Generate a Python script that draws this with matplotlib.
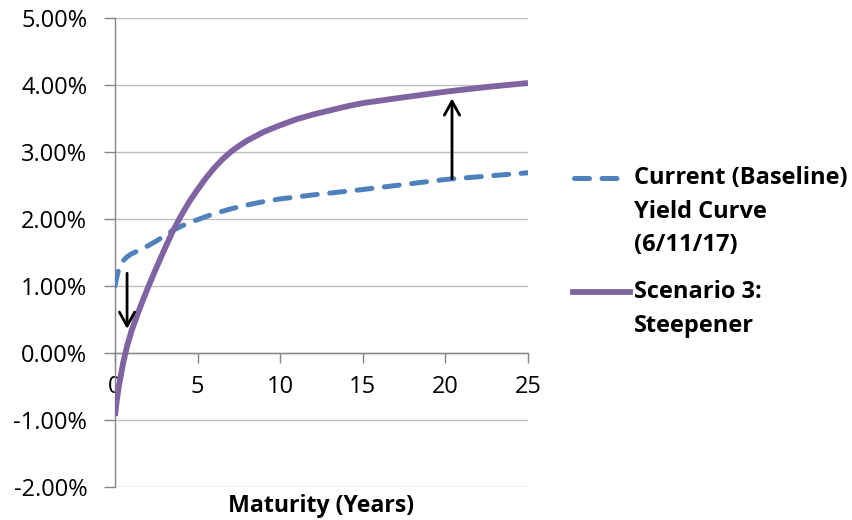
import matplotlib
matplotlib.use("Agg")
import matplotlib.pyplot as plt
from matplotlib.lines import Line2D
from matplotlib.ticker import FuncFormatter

# Yield curves (% yield by maturity in years)
baseline_maturity = [0, 0.1, 0.25, 0.5, 0.75, 1, 1.5, 2, 2.5, 3, 3.5, 4, 4.5, 5, 6, 7, 8, 9,
                     10, 12, 15, 18, 20, 22, 25]
baseline_yield = [1.00, 1.12, 1.27, 1.38, 1.44, 1.48, 1.54, 1.60, 1.67, 1.75, 1.83, 1.89,
                  1.95, 1.99, 2.08, 2.15, 2.21, 2.26, 2.30, 2.36, 2.44, 2.53, 2.59, 2.63, 2.69]

steepener_maturity = [0, 0.1, 0.25, 0.5, 0.75, 1, 1.5, 2, 2.5, 3, 3.5, 4, 4.5, 5, 5.5, 6,
                      6.5, 7, 7.5, 8, 9, 10, 11, 12, 13, 14, 15, 17, 20, 22.5, 25]
steepener_yield = [-0.94, -0.72, -0.47, -0.14, 0.12, 0.33, 0.67, 0.98, 1.27, 1.55, 1.82,
                   2.05, 2.26, 2.44, 2.61, 2.76, 2.89, 3.00, 3.09, 3.17, 3.30, 3.40, 3.49,
                   3.56, 3.62, 3.68, 3.73, 3.80, 3.90, 3.97, 4.03]

# Shift arrows: (maturity, from yield, to yield)
short_shift = (0.73, 1.19, 0.36)
long_shift = (20.4, 2.60, 3.80)

x_ticks = [0, 5, 10, 15, 20, 25]
y_ticks = [-2, -1, 0, 1, 2, 3, 4, 5]

baseline_label = ["Current (Baseline)", "Yield Curve", "(6/11/17)"]
steepener_label = ["Scenario 3:", "Steepener"]
x_title = "Maturity (Years)"

BLUE = "#4F81BD"
PURPLE = "#8064A2"
GRID = "#BFBFBF"
AXIS = "#868686"
FONT = "Open Sans"

W, H = 852, 520
fig = plt.figure(figsize=(W / 100, H / 100), dpi=100)
ax = fig.add_axes([115 / W, 1 - 487 / H, (528 - 115) / W, (487 - 18) / H])

ax.set_xlim(0, 25)
ax.set_ylim(-2, 5)

ax.set_yticks(y_ticks)
ax.set_xticks(x_ticks)
ax.yaxis.set_major_formatter(FuncFormatter(lambda v, p: f"{v:.2f}%"))
ax.grid(axis="y", color=GRID, lw=1.0)
ax.set_axisbelow(True)

for s in ("top", "right"):
    ax.spines[s].set_visible(False)
ax.spines["left"].set_color(AXIS)
ax.spines["bottom"].set_color(AXIS)
ax.spines["bottom"].set_position(("data", 0))
ax.spines["left"].set_linewidth(1.0)
ax.spines["bottom"].set_linewidth(1.0)

ax.tick_params(axis="y", direction="out", length=8, width=1.0, color=AXIS, pad=12,
               labelsize=17, labelcolor="black")
ax.tick_params(axis="x", direction="out", length=7, width=1.0, color=AXIS, pad=9,
               labelsize=17, labelcolor="black")
for lab in ax.get_xticklabels() + ax.get_yticklabels():
    lab.set_fontfamily(FONT)

ax.plot(baseline_maturity, baseline_yield, color=BLUE, lw=3.6, dashes=(3.0, 2.5),
        dash_capstyle="round", solid_capstyle="round", zorder=3)
ax.plot(steepener_maturity, steepener_yield, color=PURPLE, lw=4.2,
        solid_capstyle="butt", solid_joinstyle="round", zorder=4)

for xm, y0, y1 in (short_shift, long_shift):
    ax.annotate("", xy=(xm, y1), xytext=(xm, y0),
                arrowprops=dict(arrowstyle="->,head_length=1.0,head_width=0.55",
                                lw=2.0, color="black", shrinkA=0, shrinkB=0),
                zorder=5)

fig.text(321 / W, 1 - 506 / H, x_title, ha="center", va="center",
         fontsize=16.7, fontweight="bold", family=FONT)

# Legend
def fy(py):
    return 1 - py / H

fig.add_artist(Line2D([574 / W, 629 / W], [fy(178), fy(178)], color=BLUE, lw=3.6,
                      dashes=(3.0, 2.5), dash_capstyle="round"))
fig.add_artist(Line2D([573 / W, 630 / W], [fy(292), fy(292)], color=PURPLE, lw=4.2))
for i, line in enumerate(baseline_label):
    fig.text(634 / W, fy(178 + 33.5 * i), line, ha="left", va="center",
             fontsize=17, fontweight="bold", family=FONT)
for i, line in enumerate(steepener_label):
    fig.text(634 / W, fy(292 + 34 * i), line, ha="left", va="center",
             fontsize=17, fontweight="bold", family=FONT)

fig.savefig("out.png", dpi=100)
